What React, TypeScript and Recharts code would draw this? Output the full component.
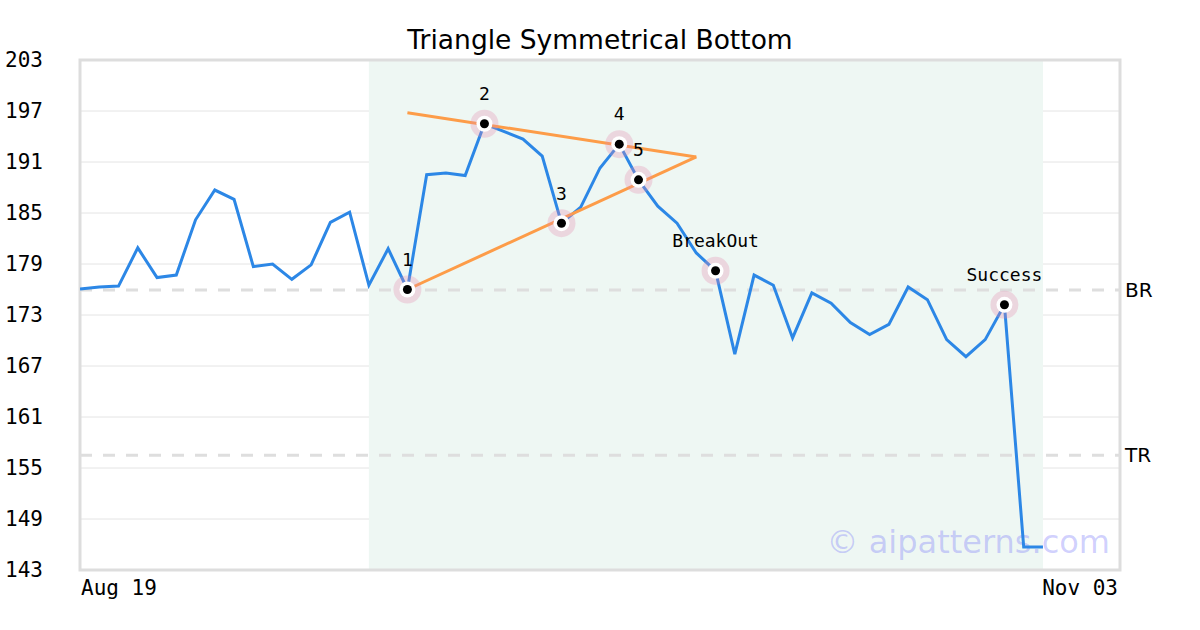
import React from 'react';
import {
  ComposedChart,
  Line,
  Scatter,
  XAxis,
  YAxis,
  CartesianGrid,
  ReferenceArea,
  ReferenceLine,
} from 'recharts';

const prices = [
  176.06, 176.3, 176.4, 180.9, 177.4, 177.7, 184.2, 187.7, 186.6, 178.7,
  179.0, 177.2, 178.9, 183.9, 185.1, 176.5, 180.8, 176.0, 189.5, 189.7,
  189.4, 195.5, 194.6, 193.7, 191.7, 183.8, 185.7, 190.3, 193.1, 188.9,
  185.8, 183.8, 180.3, 178.2, 168.4, 177.7, 176.5, 170.3, 175.6, 174.4,
  172.1, 170.7, 171.9, 176.3, 174.8, 170.1, 168.1, 170.1, 174.2, 145.7,
  145.7,
];

const markerIdx = [17, 21, 25, 28, 29, 33, 48];
const markerLabels = ['1', '2', '3', '4', '5', 'BreakOut', 'Success'];

const upperIdx = [17, 32];
const upperVals = [196.8, 191.6];
const lowerIdx = [17, 32];
const lowerVals = [176.0, 191.6];

const yTicks = [143, 149, 155, 161, 167, 173, 179, 185, 191, 197, 203];
const xTickIdx = [0, 54];
const xTickLabels = ['Aug 19', 'Nov 03'];

const shadeStart = 15;
const shadeEnd = 50;
const brLevel = 175.95;
const trLevel = 156.5;

const data = prices.map((v, i) => ({ i, v }));
const markers = markerIdx.map((i, k) => ({ i, v: prices[i], label: markerLabels[k] }));
const upper = upperIdx.map((i, k) => ({ i, t: upperVals[k] }));
const lower = lowerIdx.map((i, k) => ({ i, t: lowerVals[k] }));

const MONO = '"DejaVu Sans Mono", monospace';
const SANS = '"DejaVu Sans", sans-serif';

const MarkerShape = (props: any) => {
  const { cx, cy, payload } = props;
  return (
    <g>
      <circle cx={cx} cy={cy} r={14} fill="rgba(230,140,175,0.3)" />
      <circle cx={cx} cy={cy} r={8} fill="#ffffff" />
      <circle cx={cx} cy={cy} r={4.5} fill="#000000" />
      <text
        x={cx}
        y={cy - 30}
        dy="0.35em"
        textAnchor="middle"
        fontFamily={MONO}
        fontSize={18}
        fill="#000"
      >
        {payload.label}
      </text>
    </g>
  );
};

const YTick = (props: any) => {
  const { y, payload } = props;
  return (
    <text x={5} y={y} dy="0.35em" textAnchor="start" fontFamily={MONO} fontSize={21} fill="#000">
      {payload.value}
    </text>
  );
};

const XTick = (props: any) => {
  const { x, payload, index } = props;
  const first = index === 0;
  return (
    <text
      x={first ? x + 1 : x - 2}
      y={595}
      textAnchor={first ? 'start' : 'end'}
      fontFamily={MONO}
      fontSize={21}
      fill="#000"
    >
      {xTickLabels[xTickIdx.indexOf(payload.value)]}
    </text>
  );
};

const Watermark = () => (
  <text
    x={1110}
    y={553}
    textAnchor="end"
    fontFamily={SANS}
    fontSize={32}
    fill="rgba(110,110,250,0.32)"
  >
    © aipatterns.com
  </text>
);

export default function App() {
  return (
    <div style={{ position: 'absolute', left: 0, top: 0, width: 1200, height: 630, background: '#fff' }}>
      <div
        style={{
          position: 'absolute',
          left: 0,
          top: 23,
          width: 1200,
          textAlign: 'center',
          fontFamily: SANS,
          fontSize: 26.5,
          lineHeight: '34px',
          color: '#000',
        }}
      >
        Triangle Symmetrical Bottom
      </div>
      <ComposedChart
        width={1200}
        height={630}
        data={data}
        margin={{ top: 60, right: 80, bottom: 30, left: 0 }}
      >
        <ReferenceArea x1={shadeStart} x2={shadeEnd} y1={143} y2={203} fill="#eef7f3" fillOpacity={1} stroke="none" />
        <CartesianGrid horizontal vertical={false} stroke="#e4e4e4" strokeWidth={1} />
        <XAxis
          type="number"
          dataKey="i"
          domain={[0, 54]}
          ticks={xTickIdx}
          tick={<XTick />}
          axisLine={false}
          tickLine={false}
          height={30}
          allowDataOverflow
        />
        <YAxis
          type="number"
          domain={[143, 203]}
          ticks={yTicks}
          tick={<YTick />}
          axisLine={false}
          tickLine={false}
          width={80}
          allowDataOverflow
        />
        <ReferenceArea
          x1={0}
          x2={54}
          y1={143}
          y2={203}
          fill="none"
          stroke="#dddddd"
          strokeWidth={3}
          label={<Watermark />}
        />
        <ReferenceLine
          y={brLevel}
          stroke="#dedede"
          strokeWidth={3}
          strokeDasharray="12 11"
          label={{ value: 'BR', position: 'right', offset: 5, fill: '#000', fontSize: 20, fontFamily: SANS }}
        />
        <ReferenceLine
          y={trLevel}
          stroke="#dedede"
          strokeWidth={3}
          strokeDasharray="12 11"
          label={{ value: 'TR', position: 'right', offset: 5, fill: '#000', fontSize: 20, fontFamily: SANS }}
        />
        <Line
          type="linear"
          dataKey="v"
          stroke="#2c87e6"
          strokeWidth={3}
          dot={false}
          activeDot={false}
          isAnimationActive={false}
        />
        <Line
          data={upper}
          type="linear"
          dataKey="t"
          stroke="#fd9c48"
          strokeWidth={3}
          dot={false}
          activeDot={false}
          isAnimationActive={false}
        />
        <Line
          data={lower}
          type="linear"
          dataKey="t"
          stroke="#fd9c48"
          strokeWidth={3}
          dot={false}
          activeDot={false}
          isAnimationActive={false}
        />
        <Scatter data={markers} dataKey="v" shape={<MarkerShape />} isAnimationActive={false} />
      </ComposedChart>
    </div>
  );
}
